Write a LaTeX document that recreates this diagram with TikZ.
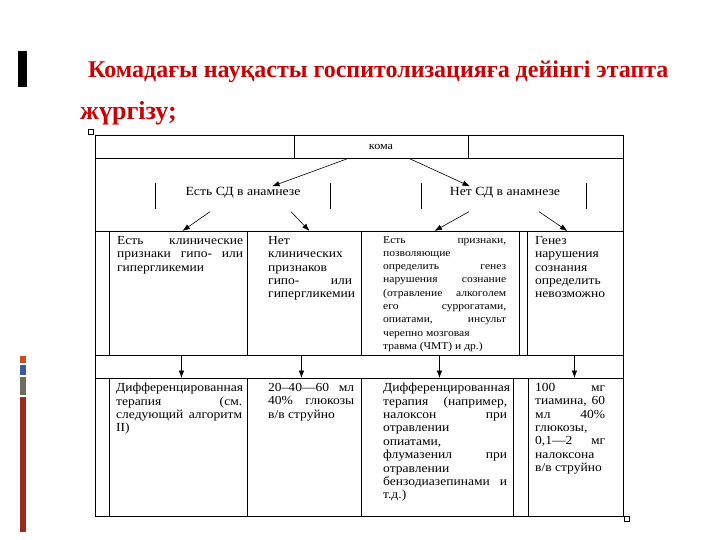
\documentclass[tikz,border=0pt]{standalone}
\usepackage{fontspec}
\setmainfont{Liberation Serif}
\newfontfamily\bodyfont[FakeStretch=1.1]{Liberation Serif}
\usetikzlibrary{arrows.meta,positioning}
\definecolor{titlered}{RGB}{204,0,0}
\definecolor{stripred}{RGB}{160,40,30}
\definecolor{stripblue}{RGB}{60,90,160}
\definecolor{stripgray}{RGB}{110,110,95}
\definecolor{striporange}{RGB}{200,80,30}
\tolerance=10000
\hbadness=10000

\begin{document}
\begin{tikzpicture}[x=1pt,y=-1pt,
    tbl/.style={line width=0.9pt},
    cell/.style={draw,line width=0.9pt,inner sep=0pt,anchor=north west},
    celltext/.style={anchor=north west,inner sep=0pt,align=justify,
      font=\bodyfont\fontsize{12.3}{13.4}\selectfont},
    label/.style={inner sep=1pt,font=\bodyfont\fontsize{12.5}{14}\selectfont},
    arr/.style={-{Latex[length=7.5pt,width=5.5pt]},line width=0.6pt}]
  \useasboundingbox (0,0) rectangle (720,540);
  % Zierleisten links
  \fill (18,51) rectangle (27,87);
  \fill[striporange] (20,356) rectangle (26,363);
  \fill[stripblue] (20,365) rectangle (26,375);
  \fill[stripgray] (20,377) rectangle (26,395);
  \fill[stripred] (20,397) rectangle (26,532);
  % Titel
  \node[anchor=base west,inner sep=0pt,text=titlered,font=\bfseries\fontsize{24}{28}\selectfont]
    (title) at (88,78) {Комадағы науқасты госпитолизацияға дейінгі этапта};
  \node[anchor=base west,inner sep=0pt,text=titlered,font=\bfseries\fontsize{26}{30}\selectfont]
    (title2) at (80,120) {жүргізу;};
  % Tabellenrahmen
  \draw[line width=0.5pt] (88,129) rectangle (93,134);
  \draw[line width=0.5pt] (624,516) rectangle (629,521);
  \draw[tbl] (95,135) rectangle (623,516);
  \draw[tbl] (95,158) -- (623,158);
  \draw[tbl] (95,231) -- (623,231);
  \draw[tbl] (95,355) -- (623,355);
  \draw[tbl] (95,378) -- (623,378);
  \node[draw,line width=0.9pt,minimum width=174pt,minimum height=23pt,
    font=\bodyfont\fontsize{11}{12}\selectfont] (koma) at (381,146.5) {кома};
  % Anamnese
  \node[label] (est) at (243,193) {Есть СД в анамнезе};
  \node[label] (net) at (505,193) {Нет СД в анамнезе};
  \foreach \x in {155,330,421,586}
    \draw[line width=0.8pt] (\x,183) -- (\x,209);
  % obere Zellen
  \node[cell,minimum width=138pt,minimum height=124pt] (box1) at (109,231) {};
  \node[cell,minimum width=114pt,minimum height=124pt] (box2) at (247,231) {};
  \node[cell,minimum width=158pt,minimum height=124pt] (box3) at (361,231) {};
  \node[cell,minimum width=96pt,minimum height=124pt] (box4) at (527,231) {};
  % untere Zellen
  \node[cell,minimum width=138pt,minimum height=138pt] (box5) at (109,378) {};
  \node[cell,minimum width=114pt,minimum height=138pt] (box6) at (247,378) {};
  \node[cell,minimum width=152pt,minimum height=138pt] (box7) at (361,378) {};
  \node[cell,minimum width=95pt,minimum height=138pt] (box8) at (528,378) {};
  % Texte
  \node[celltext,text width=126pt] (txt1) at ([xshift=8pt,yshift=-5pt]box1.north west)
    {Есть клинические\linebreak признаки гипо- или\linebreak гипергликемии};
  \node[celltext,text width=84pt] (txt2) at ([xshift=21pt,yshift=-5pt]box2.north west)
    {Нет\\ клинических\\ признаков\\ гипо- или\linebreak гипергликемии};
  \node[celltext,text width=123pt,font=\bodyfont\fontsize{10.5}{13.3}\selectfont] (txt3)
    at ([xshift=22pt,yshift=-5pt]box3.north west)
    {Есть признаки,\linebreak позволяющие\\ определить генез\linebreak
     нарушения сознание\linebreak (отравление алкоголем\linebreak
     его суррогатами,\linebreak опиатами, инсульт\linebreak черепно мозговая\\
     травма (ЧМТ) и др.)};
  \node[celltext,text width=70pt] (txt4) at ([xshift=8pt,yshift=-5pt]box4.north west)
    {Генез\\ нарушения\\ сознания\\ определить\\ невозможно};
  \node[celltext,text width=126pt] (txt5) at ([xshift=7pt,yshift=-5pt]box5.north west)
    {Дифференцированная\linebreak терапия (см.\linebreak следующий алгоритм\linebreak II)};
  \node[celltext,text width=86pt] (txt6) at ([xshift=21pt,yshift=-5pt]box6.north west)
    {20–40—60 мл\linebreak 40\% глюкозы\linebreak в/в струйно};
  \node[celltext,text width=124pt] (txt7) at ([xshift=22pt,yshift=-5pt]box7.north west)
    {Дифференцированная\linebreak терапия (например,\linebreak налоксон при\linebreak
     отравлении\\ опиатами,\\ флумазенил при\linebreak отравлении\\
     бензодиазепинами и\linebreak т.д.)};
  \node[celltext,text width=70pt] (txt8) at ([xshift=7pt,yshift=-5pt]box8.north west)
    {100 мг\linebreak тиамина, 60\linebreak мл 40\%\linebreak глюкозы,\\
     0,1—2 мг\linebreak налоксона\\ в/в струйно};
  % Pfeile
  \draw[arr] (koma.200) -- ([xshift=29pt]est.north);
  \draw[arr] (koma.-23) -- ([xshift=-35pt]net.north);
  \draw[arr] ([xshift=-33pt,yshift=-12pt]est.south) -- ([xshift=4pt]box1.north);
  \draw[arr] ([xshift=48pt,yshift=-12pt]est.south) -- ([xshift=5pt]box2.north);
  \draw[arr] ([xshift=-36pt,yshift=-12pt]net.south) -- ([xshift=-6pt]box3.north);
  \draw[arr] ([xshift=34pt,yshift=-12pt]net.south) -- ([xshift=-8pt]box4.north);
  \draw[arr] ([xshift=3pt]box1.south) -- ([xshift=3pt]box5.north);
  \draw[arr] ([xshift=-3pt]box2.south) -- ([xshift=-3pt]box6.north);
  \draw[arr] ([xshift=-1pt]box3.south) -- ([xshift=2pt]box7.north);
  \draw[arr] ([xshift=-1pt]box4.south) -- ([xshift=-1.5pt]box8.north);
\end{tikzpicture}
\end{document}
